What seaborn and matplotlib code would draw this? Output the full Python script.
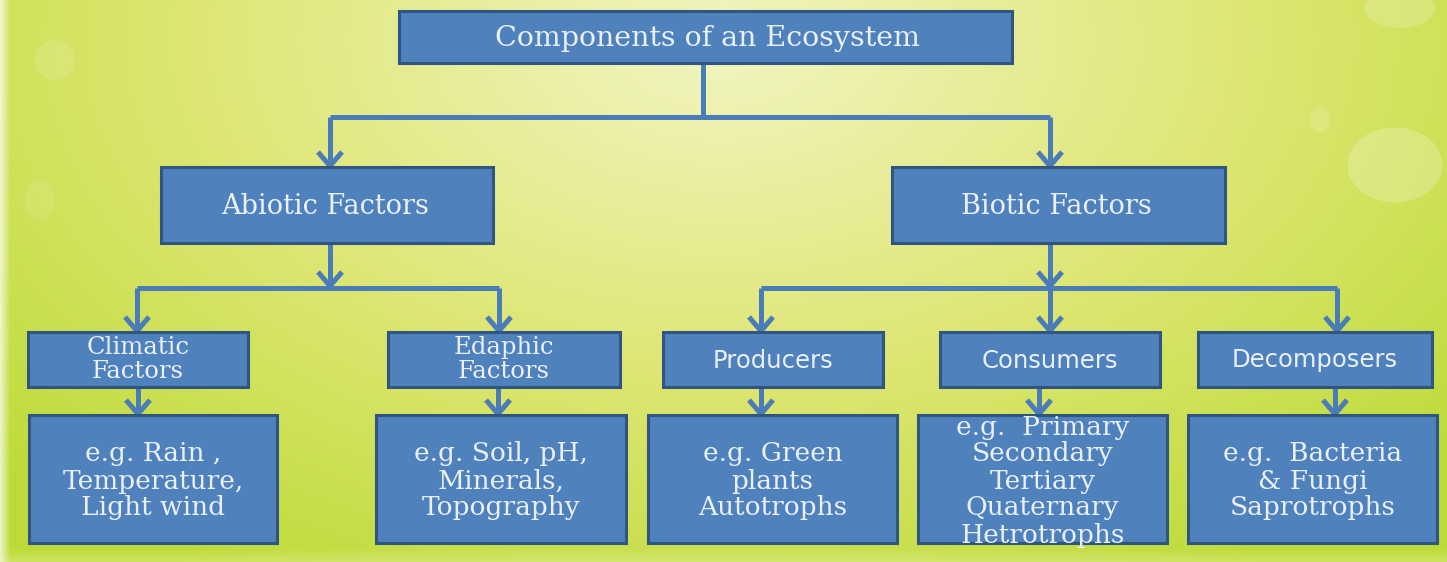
import numpy as np
import matplotlib
matplotlib.use("Agg")
import matplotlib.pyplot as plt
from matplotlib.patches import Rectangle, Ellipse
import seaborn as sns

# ---------------- data (hierarchy and labels) ----------------
root_label = "Components of an Ecosystem"
group_labels = ["Abiotic Factors", "Biotic Factors"]
factor_labels = ["Climatic\nFactors", "Edaphic\nFactors", "Producers", "Consumers", "Decomposers"]
factor_parent = [0, 0, 1, 1, 1]
example_labels = [
    "e.g. Rain ,\nTemperature,\nLight wind",
    "e.g. Soil, pH,\nMinerals,\nTopography",
    "e.g. Green\nplants\nAutotrophs",
    "e.g.  Primary\nSecondary\nTertiary\nQuaternary\nHetrotrophs",
    "e.g.  Bacteria\n& Fungi\nSaprotrophs",
]

# ---------------- layout (pixels) ----------------
W, H = 1447, 562
root_box = (399, 11, 1012, 63)
group_boxes = [(161, 167, 493, 243), (892, 167, 1225, 243)]
factor_boxes = [(28, 332, 248, 387), (388, 332, 620, 387), (663, 332, 883, 387),
                (940, 332, 1160, 387), (1198, 332, 1432, 387)]
example_boxes = [(29, 415, 277, 543), (376, 415, 626, 543), (648, 415, 897, 543),
                 (918, 415, 1167, 543), (1188, 415, 1437, 543)]
group_x = [330, 1050]
factor_x = [137, 499, 761, 1050, 1337]
example_x = [138, 498, 761, 1039, 1335]
factor_serif = [True, True, False, False, False]

BOX = "#4f81bd"
EDGE = "#2f5580"
LINE = "#4a7cb8"
TXT = "#eaf0f8"
SERIF = "DejaVu Serif"
SANS = "DejaVu Sans"

sns.set_theme(style="white")
plt.rcParams["font.family"] = ["DejaVu Sans"]

fig = plt.figure(figsize=(W / 100, H / 100), dpi=100)
ax = fig.add_axes([0, 0, 1, 1])
ax.set_xlim(0, W)
ax.set_ylim(H, 0)
ax.axis("off")

# ---------------- background gradient ----------------
yy, xx = np.mgrid[0:H, 0:W]
d = np.sqrt(((xx - 720) / 820.0) ** 2 + ((yy - 40) / 520.0) ** 2)
c0 = np.array([0.95, 0.96, 0.76])
c1 = np.array([0.87, 0.90, 0.45])
c2 = np.array([0.74, 0.86, 0.22])
t1 = np.clip(d / 0.65, 0, 1)[..., None]
t2 = np.clip((d - 0.65) / 0.55, 0, 1)[..., None]
bg = c0 * (1 - t1) + c1 * t1
bg = bg * (1 - t2) + c2 * t2
left = np.clip(1 - xx / 10.0, 0, 1)[..., None] * 0.7
bg = bg * (1 - left) + left
bottom = np.clip((yy - 548) / 14.0, 0, 1)[..., None] * 0.35
bg = bg * (1 - bottom) + np.array([0.93, 0.96, 0.70]) * bottom
ax.imshow(np.clip(bg, 0, 1), extent=(0, W, H, 0), aspect="auto", zorder=0, interpolation="bilinear")

for (cx, cy, ew, eh, a) in [(1395, 165, 95, 75, 0.22), (1400, 8, 70, 40, 0.18),
                             (55, 60, 40, 40, 0.12), (1320, 120, 20, 25, 0.15),
                             (40, 200, 30, 40, 0.10)]:
    ax.add_patch(Ellipse((cx, cy), ew, eh, facecolor="white", edgecolor="none", alpha=a, zorder=1))

# ---------------- helpers ----------------
LW = 3.6


def box(b, zorder=3):
    x0, y0, x1, y1 = b
    ax.add_patch(Rectangle((x0, y0), x1 - x0, y1 - y0, facecolor=BOX, edgecolor=EDGE,
                           linewidth=2.2, zorder=zorder))


def seg(xs, ys):
    ax.plot(xs, ys, color=LINE, lw=LW, solid_capstyle="butt", solid_joinstyle="miter", zorder=2)


def chevron(x, tip, hw=12, hh=14):
    ax.plot([x - hw, x, x + hw], [tip - hh, tip, tip - hh], color=LINE, lw=LW,
            solid_capstyle="butt", solid_joinstyle="miter", zorder=2.5)


# ---------------- connectors ----------------
rx = 703
seg([rx, rx], [root_box[3], 117])
seg([group_x[0], group_x[1]], [117, 117])
for gx, gb in zip(group_x, group_boxes):
    seg([gx, gx], [117, gb[1]])
    chevron(gx, gb[1] - 1)

for gi, gx in enumerate(group_x):
    kids = [i for i, p in enumerate(factor_parent) if p == gi]
    kx = [factor_x[i] for i in kids]
    seg([gx, gx], [group_boxes[gi][3], 288])
    chevron(gx, 286)
    seg([min(kx), max(kx)], [288, 288])
    for i in kids:
        seg([factor_x[i], factor_x[i]], [288, factor_boxes[i][1]])
        chevron(factor_x[i], factor_boxes[i][1] - 1)

for i, ex in enumerate(example_x):
    seg([ex, ex], [factor_boxes[i][3], example_boxes[i][1]])
    chevron(ex, example_boxes[i][1] - 1)

# ---------------- boxes and text ----------------
box(root_box)
ax.text((root_box[0] + root_box[2]) / 2 + 2, (root_box[1] + root_box[3]) / 2 + 1, root_label,
        family=SERIF, fontsize=20.5, color=TXT, ha="center", va="center", zorder=4)

for b, lab in zip(group_boxes, group_labels):
    box(b)
    ax.text((b[0] + b[2]) / 2 - 2, (b[1] + b[3]) / 2 + 1, lab, family=SERIF, fontsize=19.5,
            color=TXT, ha="center", va="center", zorder=4)

for b, lab, serif in zip(factor_boxes, factor_labels, factor_serif):
    box(b)
    if serif:
        ax.text((b[0] + b[2]) / 2, (b[1] + b[3]) / 2, lab, family=SERIF, fontsize=17.5,
                linespacing=1.08, color=TXT, ha="center", va="center", zorder=4)
    else:
        ax.text((b[0] + b[2]) / 2, (b[1] + b[3]) / 2 + 1, lab, family=SANS, fontsize=17.5,
                color=TXT, ha="center", va="center", zorder=4)

for b, lab in zip(example_boxes, example_labels):
    box(b)
    ax.text((b[0] + b[2]) / 2, (b[1] + b[3]) / 2 + 2, lab, family=SERIF, fontsize=19,
            linespacing=1.1, color=TXT, ha="center", va="center", zorder=4)

fig.savefig("out.png", dpi=100)
